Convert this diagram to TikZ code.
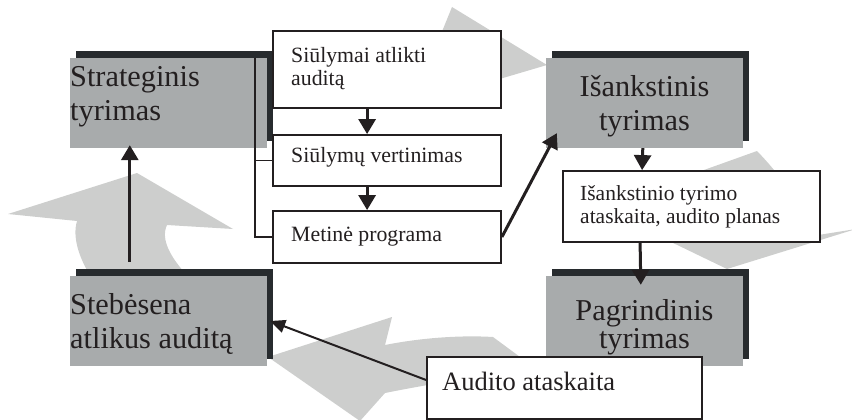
\documentclass[tikz,border=0pt]{standalone}
\usepackage{fontspec}
\setmainfont{Liberation Serif}
\usetikzlibrary{arrows.meta,shadows}
\definecolor{flowgrey}{HTML}{CDCECD}
\definecolor{boxgrey}{HTML}{A8ABAC}
\definecolor{shadowc}{HTML}{272B2E}
\definecolor{ink}{HTML}{231F20}

\begin{document}
\begin{tikzpicture}[x=1pt,y=-1pt,
  stage/.style={fill=boxgrey, minimum width=197pt, minimum height=90pt, inner sep=0,
     general shadow={fill=shadowc, shadow xshift=6pt, shadow yshift=7pt}},
  docbox/.style={draw=ink, fill=white, line width=1.8pt, inner sep=0},
  bigtxt/.style={text=ink, inner sep=0, font=\fontsize{30.3}{34}\selectfont},
  smalltxt/.style={text=ink, inner sep=0, align=left, anchor=base west, font=\fontsize{21.8}{24}\selectfont},
  flow/.style={fill=flowgrey},
  arr/.style={draw=ink, line width=3pt, -{Triangle[width=17pt,length=15pt]}},
  thinarr/.style={draw=ink, line width=2pt, -{Triangle[width=13pt,length=15pt]}},
  bracket/.style={draw=ink, line width=1.5pt}
]
\useasboundingbox (0,0) rectangle (852,420);

% cycle of broad grey arrows in the background
\fill[flow] (300,45) -- (441,34) -- (452,7) -- (547,65) -- (415,104) -- (425,78) -- (300,95) -- cycle;
\fill[flow] (690,175) -- (757,151) .. controls (790,185) and (805,215) .. (812,236)
  -- (856,229) -- (727,269) -- (640,227) .. controls (660,205) and (678,188) .. (690,175) -- cycle;
\fill[flow] (268,357) -- (392,317) -- (385,345) .. controls (420,338) and (460,335) .. (493,337)
  -- (535,368) .. controls (480,376) and (430,384) .. (385,393) -- (360,421) -- cycle;
\fill[flow] (8,214) -- (137,173) -- (233,229) -- (167,225) .. controls (160,240) and (172,258) .. (184,272)
  -- (195,320) -- (95,320) -- (88,272) .. controls (80,258) and (72,238) .. (77,221) -- cycle;

% the four stages (the base anchor sits on the last line)
\node[stage] (strat) at (168.5,103) {};
\node[stage] (isank) at (644.5,103) {};
\node[stage] (pagr)  at (644.5,321) {};
\node[stage] (steb)  at (168.5,321) {};

\node[bigtxt, align=left, anchor=base west] (tstrat) at (70,120.7) {Strateginis\\tyrimas};
\node[bigtxt, align=center, anchor=base, font=\fontsize{30.3}{34.7}\selectfont] (tisank) at (644.5,130.7) {Išankstinis\\tyrimas};
\node[bigtxt, align=center, anchor=base, font=\fontsize{30.3}{26.6}\selectfont] (tpagr) at (644.5,348.3) {Pagrindinis\\tyrimas};
\node[bigtxt, align=left, anchor=base west] (tsteb) at (70,348) {Stebėsena\\atlikus auditą};

% documents
\node[docbox, minimum width=228pt, minimum height=77pt] (b1) at (387,69.5) {};
\node[docbox, minimum width=228pt, minimum height=51pt] (b2) at (387,160.5) {};
\node[docbox, minimum width=228pt, minimum height=52pt] (b3) at (387,237) {};
\node[docbox, minimum width=257pt, minimum height=71pt] (report) at (691.5,206.5) {};
\node[docbox, minimum width=275pt, minimum height=62pt] (audit) at (564.5,388) {};

\node[smalltxt] (tb1) at (291,86) {Siūlymai atlikti\\auditą};
\node[smalltxt] (tb2) at (291,162) {Siūlymų vertinimas};
\node[smalltxt] (tb3) at (291,241) {Metinė programa};
\node[smalltxt, font=\fontsize{21.5}{22.5}\selectfont] (treport) at (580,223) {Išankstinio tyrimo\\ataskaita, audito planas};
\node[smalltxt, font=\fontsize{26.5}{30}\selectfont] (taudit) at (442,390) {Audito ataskaita};

% bracket joining the planning documents
\coordinate (brk) at ([xshift=-17pt]b1.west);
\draw[bracket] (brk |- strat.north) -- (brk |- b3.west) -- (b3.west);
\draw[bracket] (brk |- b2.west) -- (b2.west);

% flow arrows
\draw[arr] ([xshift=95pt]b1.south west) -- ([xshift=95pt]b2.north west);
\draw[arr] ([xshift=95pt]b2.south west) -- ([xshift=95pt]b3.north west);
\draw[arr] ([xshift=60pt,yshift=14pt]steb.north west) -- ([xshift=60pt,yshift=3pt]strat.south west);
\draw[arr] ([xshift=97pt]isank.south west) -- ([xshift=80pt]report.north west);
\draw[arr] ([xshift=78pt]report.south west) -- ([xshift=95pt,yshift=-9pt]pagr.north west);
\draw[arr] (b3.east) -- ([xshift=11pt,yshift=15pt]isank.south west);
\draw[thinarr] ([yshift=8pt]audit.west) -- ([xshift=3pt]steb.east);
\end{tikzpicture}
\end{document}
